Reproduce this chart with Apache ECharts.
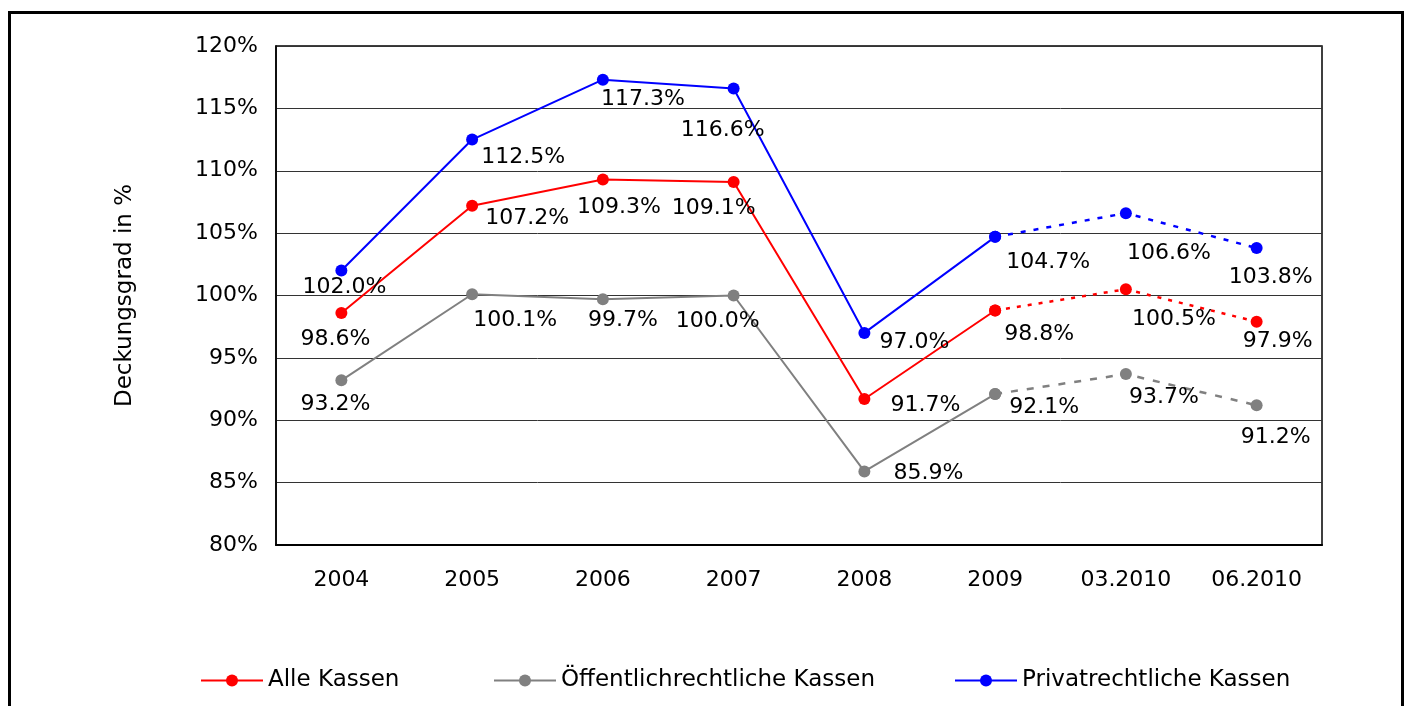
<!DOCTYPE html>
<html>
<head>
<meta charset="utf-8">
<script src="https://cdn.jsdelivr.net/npm/echarts@6/dist/echarts.min.js"></script>
<style>
	html, body { margin: 0; padding: 0; background: #fff; }
	#chart_div { width: 1412px; height: 706px; }
</style>
</head>
<body>
<div id="chart_div"></div>
<script>
// data
var categories = [ '2004', '2005', '2006', '2007', '2008', '2009', '03.2010', '06.2010' ];
var alleKassen = [ 98.6, 107.2, 109.3, 109.1, 91.7, 98.8, 100.5, 97.9 ];
var oeffentlich = [ 93.2, 100.1, 99.7, 100.0, 85.9, 92.1, 93.7, 91.2 ];
var privat = [ 102.0, 112.5, 117.3, 116.6, 97.0, 104.7, 106.6, 103.8 ];
var yTicks = [ 80, 85, 90, 95, 100, 105, 110, 115, 120 ];
var firstDashed = 5; // from 2009 on the line is dashed

// label offsets in px (label centre relative to the point)
var alleOffsets = [ [-6,26], [55,13], [16,28], [-20,26], [61,6], [44,24], [48,30], [21,20] ];
var oeffOffsets = [ [-6,24], [43,26], [20,21], [-16,26], [64,2], [49,13], [38,23], [19,32] ];
var privOffsets = [ [3,17], [51,18], [40,20], [-11,42], [50,9], [53,25], [43,40], [14,29] ];

var fontName = 'DejaVu Sans';

function buildData(values, offsets, dashed) {
	return values.map(function(v, i) {
		var inPart = dashed ? i >= firstDashed : i <= firstDashed;
		if (!inPart) {
			return null;
		}
		var showLabel = dashed ? i > firstDashed : true;
		return {
			value : v,
			label : {
				show : showLabel,
				offset : offsets[i]
			}
		};
	});
}

function makeSeries(name, values, offsets, color, dash) {
	var base = {
		name : name,
		type : 'line',
		symbol : 'circle',
		symbolSize : 12,
		itemStyle : { color : color, borderWidth : 0 },
		label : {
			position : 'inside',
			color : '#000',
			fontSize : 22,
			fontFamily : fontName,
			formatter : function(p) { return p.value.toFixed(1) + '%'; }
		},
		emphasis : { disabled : true },
		z : 3
	};
	var solid = Object.assign({}, base, {
		lineStyle : { color : color, width : 2 },
		data : buildData(values, offsets, false)
	});
	var dashed = Object.assign({}, base, {
		lineStyle : { color : color, width : 2.5, type : dash },
		data : buildData(values, offsets, true)
	});
	return [ solid, dashed ];
}

var mychart = echarts.init(document.getElementById('chart_div'));

var legendBase = {
	top : 669,
	padding : 0,
	itemWidth : 62,
	itemHeight : 15,
	itemGap : 10,
	textStyle : { fontSize : 23, fontFamily : fontName, color : '#000' },
	selectedMode : false
};

var option = {
	animation : false,
	backgroundColor : '#fff',
	textStyle : { fontFamily : fontName },
	graphic : [ {
		type : 'rect',
		shape : { x : 9.5, y : 12.5, width : 1393, height : 720 },
		style : { fill : 'none', stroke : '#000', lineWidth : 3 },
		silent : true
	} ],
	grid : {
		left : 276,
		right : 90,
		top : 46,
		bottom : 161,
		show : true,
		borderColor : '#000',
		borderWidth : 1.5,
		backgroundColor : 'transparent'
	},
	legend : [
		Object.assign({}, legendBase, { left : 200, data : [ 'Alle Kassen' ] }),
		Object.assign({}, legendBase, { left : 493, data : [ 'Öffentlichrechtliche Kassen' ] }),
		Object.assign({}, legendBase, { left : 954, data : [ 'Privatrechtliche Kassen' ] })
	],
	xAxis : {
		type : 'category',
		data : categories,
		boundaryGap : true,
		axisLine : { lineStyle : { color : '#000', width : 2 } },
		axisTick : { show : false },
		axisLabel : { fontSize : 22, color : '#000', margin : 24, fontFamily : fontName }
	},
	yAxis : {
		type : 'value',
		min : yTicks[0],
		max : yTicks[yTicks.length - 1],
		interval : yTicks[1] - yTicks[0],
		name : 'Deckungsgrad in %',
		nameLocation : 'middle',
		nameGap : 139,
		nameTextStyle : { fontSize : 23, color : '#000', fontFamily : fontName },
		axisLine : { show : true, lineStyle : { color : '#000', width : 1.5 } },
		axisTick : { show : false },
		axisLabel : {
			fontSize : 22,
			color : '#000',
			margin : 18,
			fontFamily : fontName,
			formatter : '{value}%'
		},
		splitLine : { lineStyle : { color : '#333', width : 1 } }
	},
	series : [].concat(
		makeSeries('Alle Kassen', alleKassen, alleOffsets, '#FF0000', [4, 7]),
		makeSeries('Öffentlichrechtliche Kassen', oeffentlich, oeffOffsets, '#808080', [7, 9]),
		makeSeries('Privatrechtliche Kassen', privat, privOffsets, '#0000FF', [5, 8])
	)
};

mychart.setOption(option);
</script>
</body>
</html>
